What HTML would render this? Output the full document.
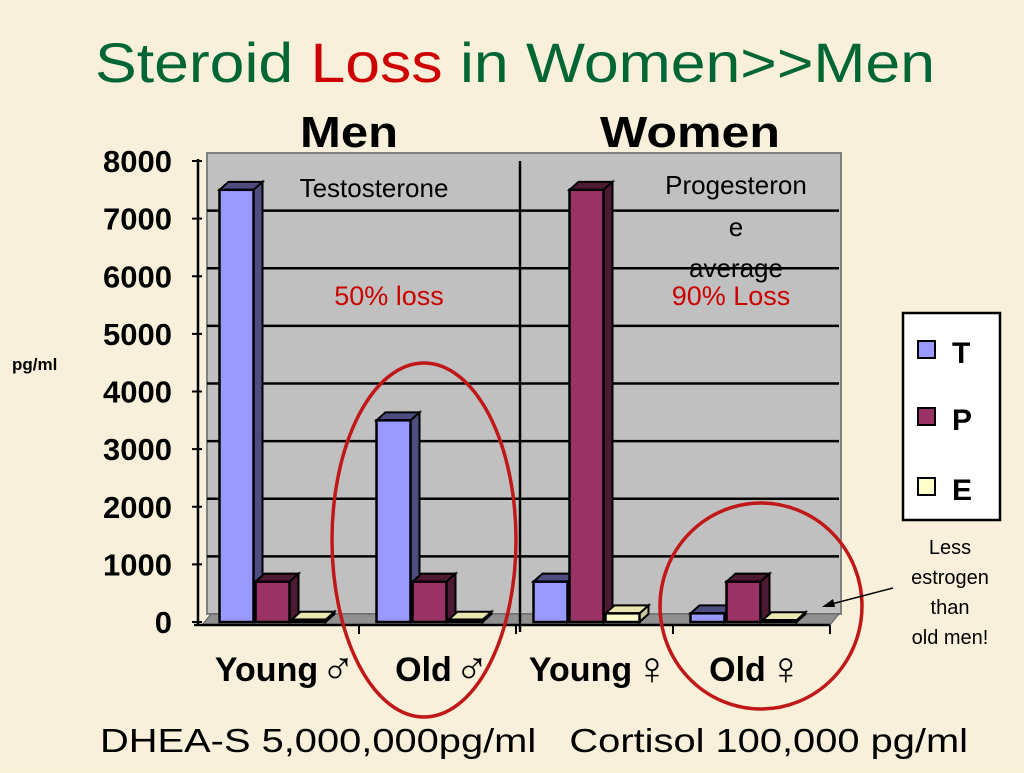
<!DOCTYPE html>
<html><head><meta charset="utf-8"><style>
body{margin:0;width:1024px;height:768px;overflow:hidden;background:#f8f0d8;font-family:"Liberation Sans",sans-serif;}
</style></head><body>
<svg id="chart" width="1024" height="768" xmlns="http://www.w3.org/2000/svg" font-family="Liberation Sans, sans-serif">
<rect width="1024" height="768" fill="#f8f0da"/>
<text x="95" y="82" font-size="56" textLength="840" lengthAdjust="spacingAndGlyphs" fill="#006633">Steroid <tspan fill="#cc0000">Loss</tspan> in Women&gt;&gt;Men</text>
<text x="300" y="147" font-size="44" font-weight="bold" textLength="98" lengthAdjust="spacingAndGlyphs">Men</text>
<text x="600" y="147" font-size="44" font-weight="bold" textLength="180" lengthAdjust="spacingAndGlyphs">Women</text>
<g id="plot"></g>
<text x="12" y="370" font-size="17" font-weight="bold">pg/ml</text>
<text x="374" y="197" font-size="26" text-anchor="middle">Testosterone</text>
<text font-size="26" text-anchor="middle"><tspan x="736" y="194">Progesteron</tspan><tspan x="736" y="236">e</tspan><tspan x="736" y="277">average</tspan></text>
<text x="389" y="305" font-size="27" fill="#cc0000" text-anchor="middle">50% loss</text>
<text x="731" y="305" font-size="27" fill="#cc0000" text-anchor="middle">90% Loss</text>
<ellipse cx="424" cy="540" rx="92" ry="177" fill="none" stroke="#c01818" stroke-width="3.5"/>
<ellipse cx="761" cy="606" rx="101" ry="103" fill="none" stroke="#c01818" stroke-width="3.5"/>
<g>
<rect x="903" y="313" width="97" height="207" fill="#fff" stroke="#000" stroke-width="2.5"/>
<rect x="918" y="341" width="17" height="17" fill="#9999ff" stroke="#000" stroke-width="2"/>
<text x="952" y="363" font-size="30" font-weight="bold">T</text>
<rect x="918" y="408" width="17" height="17" fill="#993366" stroke="#000" stroke-width="2"/>
<text x="952" y="430" font-size="30" font-weight="bold">P</text>
<rect x="918" y="478" width="17" height="17" fill="#ffffcc" stroke="#000" stroke-width="2"/>
<text x="952" y="500" font-size="30" font-weight="bold">E</text>
</g>
<text font-size="20" text-anchor="middle"><tspan x="950" y="554">Less</tspan><tspan x="950" y="584">estrogen</tspan><tspan x="950" y="614">than</tspan><tspan x="950" y="644">old men!</tspan></text>
<line x1="893" y1="588" x2="824" y2="606" stroke="#000" stroke-width="1.5"/>
<polygon points="822,607 833,599 835,607" fill="#000"/>
<text x="100" y="752" font-size="33" textLength="868" lengthAdjust="spacingAndGlyphs" xml:space="preserve">DHEA-S 5,000,000pg/ml   Cortisol 100,000 pg/ml</text>
</svg>
<script>
const categories=["Young♂","Old♂","Young♀","Old♀"];
const catLabels=["Young","Old","Young","Old"];
const catSymbols=["♂","♂","♀","♀"];
const seriesNames=["T","P","E"];
const seriesT=[7500,3500,700,150];
const seriesP=[700,700,7500,700];
const seriesE=[40,40,150,30];
const yTicks=[0,1000,2000,3000,4000,5000,6000,7000,8000];
const colors=[["#9999ff","#4d4d80"],["#993366","#4d1a33"],["#ffffcc","#c8c89a"]];
const NS="http://www.w3.org/2000/svg";
const g=document.getElementById('plot');
const x0=202,x1=830,yBase=622,yTop=161,dx=9,dy=8;
function y(v){return yBase-(v/8000)*(yBase-yTop);}
function mk(t,a){const e=document.createElementNS(NS,t);for(const k in a)e.setAttribute(k,a[k]);g.appendChild(e);return e;}
let w=mk('rect',{x:x0+dx-4,y:y(8000)-dy,width:x1-x0+6,height:yBase-y(8000),fill:'#c0c0c0',stroke:'#808080','stroke-width':2});


yTicks.forEach(t=>{
 if(t>0&&t<8000){const l=mk('line',{x1:x0+dx-4,x2:x1+dx,y1:y(t)-dy,y2:y(t)-dy,stroke:'#000','stroke-width':2.5});
 
 }
 const tk=mk('line',{x1:x0-10,x2:x0,y1:y(t),y2:y(t),stroke:'#000','stroke-width':2});
 
 
 const tx=mk('text',{x:x0-30,y:y(t)+11,'font-size':31,'font-weight':'bold','text-anchor':'end'});
 tx.textContent=t;
 
 
});
mk('polygon',{points:`${x0},${yBase+3} ${x0+dx},${yBase-dy} ${x1+dx},${yBase-dy} ${x1},${yBase+3}`,fill:'#909090',stroke:'#606060'});
mk('line',{x1:x0-4,y1:y(8000)-2,x2:x0-4,y2:yBase+3,stroke:'#000','stroke-width':2.5});
const ax=mk('line',{x1:x0-8,x2:x1,y1:yBase+3,y2:yBase+3,stroke:'#000','stroke-width':2.5});


mk('line',{x1:520,x2:520,y1:y(8000),y2:yBase+10,stroke:'#000','stroke-width':2.5});
const groupW=(x1-x0)/4,bw=34,gap=2;
const series=[seriesT,seriesP,seriesE];
categories.forEach((c,i)=>{
 const gx=x0+i*groupW;
 const start=gx+groupW/2-(3*bw+2*gap)/2-8;
 series.forEach((s,j)=>{
  const bx=start+j*(bw+gap),by=y(s[i]),[f,d]=colors[j];
  const grp=document.createElementNS(NS,'g');
  
  
  g.appendChild(grp);
  const p=(t,a)=>{const e=mk(t,a);grp.appendChild(e);};
  p('polygon',{points:`${bx+bw},${by} ${bx+bw+dx},${by-dy} ${bx+bw+dx},${yBase-dy} ${bx+bw},${yBase}`,fill:d,stroke:'#000','stroke-width':2});
  p('polygon',{points:`${bx},${by} ${bx+dx},${by-dy} ${bx+bw+dx},${by-dy} ${bx+bw},${by}`,fill:d==="#c8c89a"?"#e8e8b0":d,stroke:'#000','stroke-width':2});
  p('rect',{x:bx,y:by,width:bw,height:yBase-by,fill:f,stroke:'#000','stroke-width':2.5});
 });
 mk('line',{x1:gx+groupW,x2:gx+groupW,y1:yBase+3,y2:yBase+12,stroke:'#000','stroke-width':2});
 const lx=gx+groupW/2-14;
 const t=mk('text',{x:lx,y:681,'font-size':34,'font-weight':'bold','text-anchor':'middle'});
 t.textContent=catLabels[i];
 
 
 const sy=mk('text',{x:lx+t.getComputedTextLength()/2+20,y:684,'font-size':46,'text-anchor':'middle'});
 sy.textContent=catSymbols[i];
 
 
});
</script>
</body></html>
